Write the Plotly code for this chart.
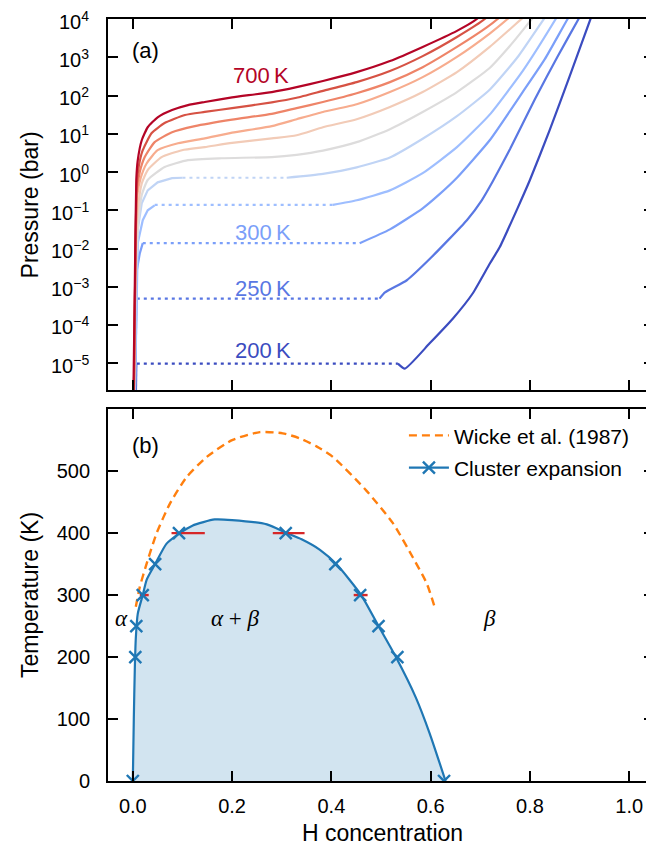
import plotly.graph_objects as go

# ---------------- Panel (a): pressure isotherms (x = H concentration, lp = log10 p/bar) -------------
temps = [200, 250, 300, 350, 400, 450, 500, 550, 600, 650, 700]
colors = ["#3b4cc0", "#5977e3", "#7b9ff9", "#9ebeff", "#c0d4f5", "#dddcdc",
          "#f2cbb7", "#f7ac8e", "#ee8468", "#d65244", "#b40426"]

# low temperatures: left branch, dotted plateau, right branch
x200_left = [0.006, 0.007]
lp200_left = [-6.0, -5.01]
plat200 = [0.008, 0.534, -5.01]
x200_right = [0.534, 0.548, 0.598, 0.645, 0.685, 0.719, 0.739, 0.775, 0.800, 0.840, 0.880, 0.922, 0.94]
lp200_right = [-5.01, -5.14, -4.48, -3.83, -3.17, -2.40, -1.97, -0.95, -0.21, 1.10, 2.50, 4.00, 4.6]

x250_left = [0.005, 0.007]
lp250_left = [-6.0, -3.30]
plat250 = [0.008, 0.497, -3.31]
x250_right = [0.497, 0.508, 0.552, 0.600, 0.673, 0.703, 0.725, 0.760, 0.810, 0.855, 0.898, 0.92]
lp250_right = [-3.31, -3.15, -2.83, -2.25, -1.26, -0.74, -0.25, 0.60, 1.90, 3.00, 4.00, 4.5]

x300_left = [0.004, 0.008, 0.014, 0.020]
lp300_left = [-6.0, -2.57, -2.13, -1.86]
plat300 = [0.020, 0.457, -1.86]
x300_right = [0.457, 0.518, 0.584, 0.618, 0.653, 0.719, 0.786, 0.830, 0.876, 0.90]
lp300_right = [-1.86, -1.50, -0.95, -0.58, -0.15, 0.83, 2.10, 2.95, 4.00, 4.5]

x350_left = [0.004, 0.008, 0.010, 0.020, 0.030, 0.044]
lp350_left = [-6.0, -2.6, -1.86, -1.26, -1.00, -0.87]
plat350 = [0.044, 0.403, -0.86]
x350_right = [0.403, 0.451, 0.518, 0.584, 0.653, 0.719, 0.786, 0.852, 0.87]
lp350_right = [-0.86, -0.74, -0.48, -0.03, 0.65, 1.50, 2.65, 4.00, 4.4]

x400_left = [0.003, 0.006, 0.010, 0.018, 0.030, 0.050, 0.079, 0.100]
lp400_left = [-6.0, -3.0, -1.5, -0.82, -0.48, -0.27, -0.16, -0.15]
plat400 = [0.100, 0.310, -0.15]
x400_right = [0.310, 0.383, 0.451, 0.518, 0.584, 0.653, 0.719, 0.775, 0.828, 0.85]
lp400_right = [-0.15, -0.05, 0.12, 0.38, 0.87, 1.46, 2.15, 3.00, 4.00, 4.4]

# high temperatures: single continuous curves
x450 = [0.002, 0.006, 0.012, 0.018, 0.030, 0.064, 0.111, 0.179, 0.280, 0.330, 0.383, 0.451, 0.518, 0.584, 0.653, 0.719, 0.760, 0.804, 0.83]
lp450 = [-6.0, -2.5, -1.2, -0.6, -0.21, 0.13, 0.31, 0.36, 0.39, 0.45, 0.56, 0.78, 1.12, 1.57, 2.09, 2.72, 3.30, 4.00, 4.4]
x500 = [0.002, 0.005, 0.010, 0.018, 0.030, 0.058, 0.099, 0.145, 0.200, 0.280, 0.330, 0.383, 0.451, 0.518, 0.584, 0.653, 0.719, 0.783, 0.81]
lp500 = [-6.0, -2.5, -1.0, -0.3, 0.05, 0.39, 0.57, 0.65, 0.76, 0.88, 0.96, 1.17, 1.38, 1.70, 2.09, 2.61, 3.27, 4.00, 4.3]
x550 = [0.002, 0.005, 0.009, 0.016, 0.028, 0.050, 0.091, 0.145, 0.200, 0.280, 0.330, 0.383, 0.451, 0.518, 0.584, 0.653, 0.719, 0.755, 0.78]
lp550 = [-6.0, -2.5, -0.6, -0.15, 0.23, 0.57, 0.75, 0.88, 1.03, 1.20, 1.38, 1.57, 1.77, 2.09, 2.48, 3.01, 3.62, 4.00, 4.3]
x600 = [0.002, 0.005, 0.008, 0.014, 0.024, 0.044, 0.079, 0.125, 0.200, 0.280, 0.330, 0.383, 0.451, 0.518, 0.584, 0.653, 0.713, 0.735, 0.76]
lp600 = [-6.0, -2.5, -0.5, 0.0, 0.39, 0.78, 1.04, 1.20, 1.37, 1.52, 1.67, 1.83, 2.06, 2.35, 2.74, 3.27, 3.78, 4.00, 4.3]
x650 = [0.002, 0.005, 0.008, 0.012, 0.020, 0.038, 0.064, 0.105, 0.145, 0.200, 0.280, 0.330, 0.383, 0.451, 0.518, 0.584, 0.653, 0.709, 0.73]
lp650 = [-6.0, -2.5, -0.3, 0.15, 0.57, 1.02, 1.28, 1.49, 1.57, 1.67, 1.82, 1.94, 2.12, 2.35, 2.64, 3.03, 3.53, 4.00, 4.3]
x700 = [0.001, 0.004, 0.007, 0.010, 0.018, 0.030, 0.050, 0.079, 0.111, 0.145, 0.200, 0.280, 0.330, 0.383, 0.451, 0.518, 0.584, 0.653, 0.693, 0.72]
lp700 = [-6.0, -3.0, -0.2, 0.31, 0.83, 1.17, 1.43, 1.62, 1.75, 1.83, 1.95, 2.09, 2.22, 2.38, 2.61, 2.90, 3.27, 3.69, 4.00, 4.4]

# isotherm labels (x, log10 p)
label_texts = ["700\u2009K", "300\u2009K", "250\u2009K", "200\u2009K"]
label_temps = [700, 300, 250, 200]
label_x = [0.258, 0.262, 0.262, 0.262]
label_lp = [2.51, -1.58, -3.04, -4.66]

p_tickvals_exp = [-5, -4, -3, -2, -1, 0, 1, 2, 3, 4]
p_ticktext = ["10<sup>%s</sup>" % str(e).replace("-", "\u2212") for e in p_tickvals_exp]

# ---------------- Panel (b): phase diagram --------------------------------------------------------
ce_curve_x = [0.000, 0.002, 0.004, 0.006, 0.010, 0.020, 0.028, 0.045, 0.068, 0.095, 0.120, 0.165,
              0.200, 0.270, 0.310, 0.340, 0.377, 0.410, 0.460, 0.495, 0.530, 0.570, 0.598, 0.630]
ce_curve_T = [0, 100, 180, 230, 270, 300, 325, 350, 383, 400, 412, 422,
              421, 414, 400, 390, 373, 350, 300, 250, 200, 135, 77, 0]
ce_x = [0.000, 0.005, 0.007, 0.020, 0.045, 0.093, 0.308, 0.408, 0.458, 0.495, 0.533, 0.627]
ce_T = [0, 200, 250, 300, 350, 400, 400, 350, 300, 250, 200, 0]
err_T = [300, 400, 400, 300]
err_lo = [0.014, 0.078, 0.282, 0.445]
err_hi = [0.032, 0.145, 0.346, 0.473]
wicke_x = [0.006, 0.014, 0.028, 0.048, 0.075, 0.108, 0.149, 0.200, 0.256, 0.302, 0.336, 0.370,
           0.403, 0.470, 0.524, 0.564, 0.592, 0.608]
wicke_T = [281, 313, 351, 400, 448, 490, 523, 550, 563, 561, 553, 540,
           523, 469, 416, 361, 319, 281]

x_ticks = [0.0, 0.2, 0.4, 0.6, 0.8, 1.0]
T_ticks = [0, 100, 200, 300, 400, 500]

# ---------------------------------------------------------------------------------------------------
fig = go.Figure()
LW = 2.2
DOT = "3px,4px"


def pw(lp):
    return [10 ** v for v in lp]


def add_line(x, lp, color, dash="solid", smooth=False):
    line = dict(color=color, width=LW, dash=dash)
    if smooth:
        line.update(shape="spline", smoothing=0.5)
    fig.add_trace(go.Scatter(x=x, y=pw(lp), mode="lines", xaxis="x", yaxis="y",
                             line=line, showlegend=False, hoverinfo="skip"))


low = [(x200_left, lp200_left, plat200, x200_right, lp200_right),
       (x250_left, lp250_left, plat250, x250_right, lp250_right),
       (x300_left, lp300_left, plat300, x300_right, lp300_right),
       (x350_left, lp350_left, plat350, x350_right, lp350_right),
       (x400_left, lp400_left, plat400, x400_right, lp400_right)]
for (xl, ll, pl, xr, lr), c in zip(low, colors[:5]):
    add_line(xl, ll, c)
    add_line([pl[0], pl[1]], [pl[2], pl[2]], c, DOT)
    add_line(xr, lr, c, smooth=True)

high = [(x450, lp450), (x500, lp500), (x550, lp550), (x600, lp600), (x650, lp650), (x700, lp700)]
for (xh, lh), c in zip(high, colors[5:]):
    add_line(xh, lh, c, smooth=True)

# panel (b)
fig.add_trace(go.Scatter(x=ce_curve_x, y=ce_curve_T, mode="lines", xaxis="x2", yaxis="y2",
                         fill="toself", fillcolor="rgba(31,119,180,0.2)",
                         line=dict(color="#1f77b4", width=2.2, shape="spline", smoothing=0.6),
                         showlegend=False, hoverinfo="skip"))
fig.add_trace(go.Scatter(x=wicke_x, y=wicke_T, mode="lines", xaxis="x2", yaxis="y2",
                         line=dict(color="#ff7f0e", width=2.4, dash="8px,5px", shape="spline", smoothing=0.6),
                         name="Wicke et al. (1987)", legendgroup="a", showlegend=True, hoverinfo="skip"))
for t, a, b in zip(err_T, err_lo, err_hi):
    fig.add_trace(go.Scatter(x=[a, b], y=[t, t], mode="lines", xaxis="x2", yaxis="y2",
                             line=dict(color="#d62728", width=2.4), showlegend=False, hoverinfo="skip"))
fig.add_trace(go.Scatter(x=ce_x, y=ce_T, mode="markers", xaxis="x2", yaxis="y2",
                         marker=dict(symbol="x-thin", size=12, color="#1f77b4",
                                     line=dict(color="#1f77b4", width=2.4)),
                         showlegend=False, hoverinfo="skip"))
fig.add_trace(go.Scatter(x=[None], y=[None], mode="lines+markers", xaxis="x2", yaxis="y2",
                         line=dict(color="#1f77b4", width=2.2),
                         marker=dict(symbol="x-thin", size=12, color="#1f77b4",
                                     line=dict(color="#1f77b4", width=2.4)),
                         name="Cluster expansion", legendgroup="b", showlegend=True))

annotations = []
# pressure tick labels (placed as text beside the log axis ticks)
for e, txt in zip(p_tickvals_exp, p_ticktext):
    annotations.append(dict(x=-0.031, y=e, xref="paper", yref="y", text=txt, showarrow=False,
                            font=dict(size=20, color="black"), xanchor="right", yanchor="middle",
                            yshift=-1))
for txt, T, x, lp in zip(label_texts, label_temps, label_x, label_lp):
    annotations.append(dict(x=x, y=lp, xref="x", yref="y", text=txt, showarrow=False,
                            font=dict(size=22, color=colors[temps.index(T)]),
                            xanchor="center", yanchor="middle"))
annotations += [
    dict(x=0.040, y=0.916, xref="x domain", yref="y domain", text="(a)", showarrow=False,
         font=dict(size=22, color="black"), xanchor="left", yanchor="middle"),
    dict(x=0.040, y=0.903, xref="x2 domain", yref="y2 domain", text="(b)", showarrow=False,
         font=dict(size=22, color="black"), xanchor="left", yanchor="middle"),
    dict(x=-0.022, y=262, xref="x2", yref="y2", text="<i>α</i>", showarrow=False,
         font=dict(size=23, color="black", family="Liberation Serif"), xanchor="center", yanchor="middle"),
    dict(x=0.207, y=262, xref="x2", yref="y2", text="<i>α</i> + <i>β</i>", showarrow=False,
         font=dict(size=23, color="black", family="Liberation Serif"), xanchor="center", yanchor="middle"),
    dict(x=0.719, y=262, xref="x2", yref="y2", text="<i>β</i>", showarrow=False,
         font=dict(size=23, color="black", family="Liberation Serif"), xanchor="center", yanchor="middle"),
    dict(x=-0.1429, y=0.7566, xref="paper", yref="paper", text="Pressure (bar)", showarrow=False,
         textangle=-90, font=dict(size=23, color="black"), xanchor="center", yanchor="middle"),
    dict(x=-0.1429, y=0.244, xref="paper", yref="paper", text="Temperature (K)", showarrow=False,
         textangle=-90, font=dict(size=23, color="black"), xanchor="center", yanchor="middle"),
    dict(x=0.502, y=-0.068, xref="paper", yref="paper", text="H concentration", showarrow=False,
         font=dict(size=23, color="black"), xanchor="center", yanchor="middle"),
]

axis_common = dict(showline=True, linecolor="black", linewidth=1.8, mirror="ticks",
                   ticks="inside", ticklen=10, tickwidth=1.5, tickcolor="black", automargin=False,
                   showgrid=False, zeroline=False, tickfont=dict(size=20, color="black"))

# the page body adds an 8px offset; the figure is sized to fill the remaining window
fig.update_layout(
    width=646, height=842,
    margin=dict(l=100, r=0, t=11, b=69, autoexpand=False),
    paper_bgcolor="white", plot_bgcolor="white",
    font=dict(family="Liberation Sans, Arial, sans-serif", color="black"),
    xaxis=dict(domain=[0, 1], anchor="y", range=[-0.05, 1.05], tickvals=x_ticks,
               showticklabels=False, **axis_common),
    yaxis=dict(domain=[0.5131, 1], anchor="x", type="log", range=[-5.7, 4.0001],
               tickvals=[10 ** e for e in p_tickvals_exp], showticklabels=False, **axis_common),
    xaxis2=dict(domain=[0, 1], anchor="y2", range=[-0.05, 1.05], tickvals=x_ticks,
                ticktext=["%.1f" % v for v in x_ticks], ticklabelstandoff=6, **axis_common),
    yaxis2=dict(domain=[0, 0.488], anchor="x2", range=[0, 600], tickvals=T_ticks,
                ticklabelstandoff=12, **axis_common),
    legend=dict(x=0.542, y=0.480, xanchor="left", yanchor="top", bgcolor="rgba(0,0,0,0)",
                font=dict(size=21, color="black"), tracegroupgap=2, itemwidth=40),
    annotations=annotations,
)

fig.write_html("out.html")
